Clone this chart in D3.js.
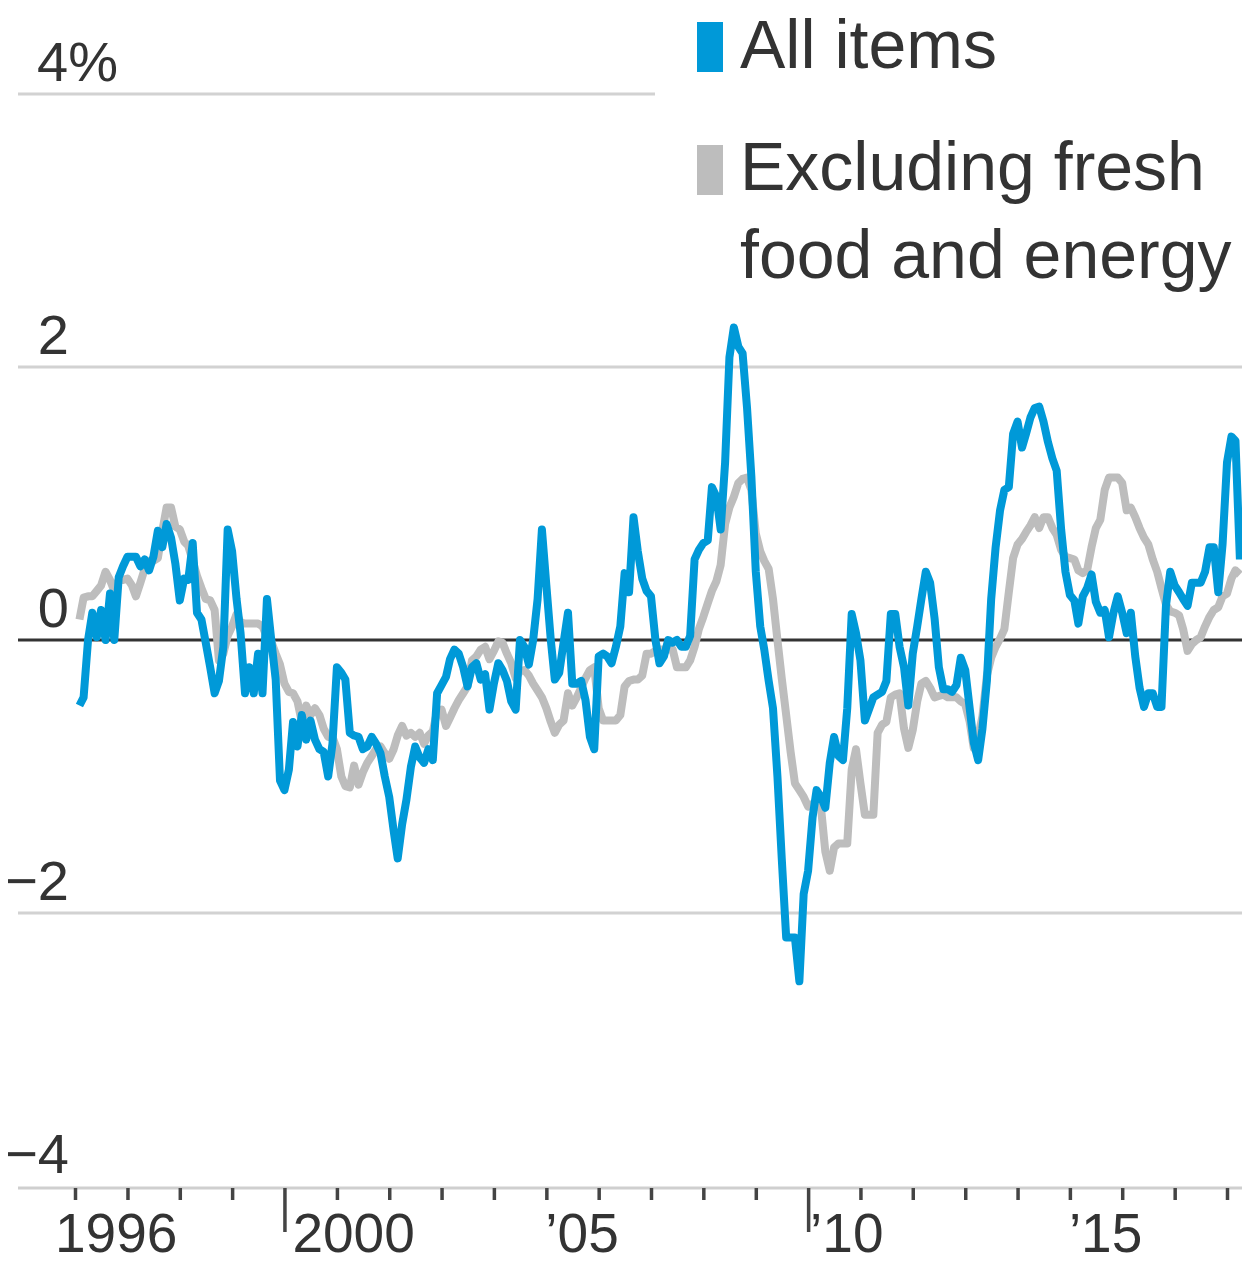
<!DOCTYPE html>
<html>
<head>
<meta charset="utf-8">
<script src="https://cdn.jsdelivr.net/npm/d3@7"></script>
<style>
  body { margin: 0; background: #fff; }
  svg text { font-family: "Liberation Sans", Arial, sans-serif; fill: #333; }
</style>
</head>
<body>
<svg id="chart" width="1242" height="1264"></svg>
<script>
// Monthly readings, first month Feb 1996
var startMonth = new Date(1996, 1, 1);

// All items (blue)
var allItems = [
  -0.48, -0.42, 0.0, 0.2, 0.02, 0.22, 0.0, 0.34, 0.0, 0.46, 0.54, 0.61,
  0.61, 0.61, 0.54, 0.59, 0.51, 0.61, 0.8, 0.68, 0.85, 0.75, 0.56, 0.29,
  0.45, 0.44, 0.71, 0.2, 0.15, -0.02, -0.2, -0.39, -0.3, -0.05, 0.81, 0.65,
  0.3, 0.05, -0.39, -0.2, -0.39, -0.1, -0.39, 0.3, 0.0, -0.29, -1.03, -1.1,
  -0.95, -0.6, -0.78, -0.55, -0.73, -0.59, -0.73, -0.8, -0.82, -1.0, -0.76, -0.2,
  -0.24, -0.29, -0.68, -0.7, -0.71, -0.8, -0.78, -0.71, -0.76, -0.83, -1.0, -1.15,
  -1.4, -1.6, -1.35, -1.17, -0.93, -0.78, -0.86, -0.9, -0.8, -0.88, -0.39, -0.33,
  -0.27, -0.14, -0.07, -0.1, -0.2, -0.34, -0.2, -0.17, -0.29, -0.25, -0.51, -0.32,
  -0.17, -0.22, -0.3, -0.45, -0.51, 0.0, -0.05, -0.18, 0.0, 0.3, 0.81, 0.4,
  0.0, -0.29, -0.24, -0.02, 0.2, -0.32, -0.32, -0.3, -0.44, -0.71, -0.8, -0.12,
  -0.1, -0.12, -0.17, -0.05, 0.1, 0.49, 0.35, 0.9, 0.65, 0.45, 0.36, 0.32,
  0.0, -0.17, -0.12, 0.0, -0.02, 0.0, -0.05, -0.05, 0.03, 0.59, 0.66, 0.71,
  0.73, 1.12, 1.05, 0.81, 1.3, 2.07, 2.29, 2.15, 2.1, 1.7, 1.2, 0.5,
  0.1, -0.07, -0.3, -0.5, -1.0, -1.6, -2.18, -2.18, -2.18, -2.5, -1.86, -1.69,
  -1.3, -1.1, -1.15, -1.23, -0.9, -0.71, -0.85, -0.88, -0.5, 0.19, 0.05, -0.15,
  -0.59, -0.51, -0.42, -0.4, -0.38, -0.3, 0.19, 0.19, -0.05, -0.2, -0.48, -0.1,
  0.1, 0.3, 0.5, 0.42, 0.16, -0.2, -0.36, -0.36, -0.38, -0.33, -0.13, -0.22,
  -0.5, -0.75, -0.88, -0.65, -0.3, 0.3, 0.68, 0.95, 1.1, 1.12, 1.51, 1.6,
  1.41, 1.51, 1.63, 1.7, 1.71, 1.6, 1.45, 1.33, 1.24, 0.81, 0.5, 0.33,
  0.29, 0.12, 0.32, 0.38, 0.48, 0.28, 0.2, 0.22, 0.02, 0.2, 0.32, 0.2,
  0.05, 0.2, -0.12, -0.35, -0.49, -0.39, -0.39, -0.49, -0.49, 0.25, 0.5, 0.4,
  0.35, 0.3, 0.25, 0.42, 0.42, 0.42, 0.5, 0.68, 0.68, 0.35, 0.7, 1.3,
  1.49, 1.46, 0.59
];

// Excluding fresh food and energy (gray)
var coreItems = [
  0.15, 0.31, 0.32, 0.32, 0.36, 0.4, 0.5, 0.44, 0.36, 0.44, 0.44, 0.45,
  0.4, 0.32, 0.42, 0.52, 0.58, 0.58, 0.6, 0.8, 0.97, 0.97, 0.83, 0.81,
  0.72, 0.69, 0.58, 0.47, 0.38, 0.3, 0.29, 0.22, -0.15, -0.1, 0.03, 0.1,
  0.19, 0.13, 0.12, 0.12, 0.12, 0.12, 0.1, 0.02, -0.01, -0.1, -0.18, -0.32,
  -0.38, -0.39, -0.45, -0.6, -0.48, -0.55, -0.5, -0.55, -0.65, -0.71, -0.71, -0.8,
  -1.0, -1.07, -1.08, -0.92, -1.06, -0.97, -0.9, -0.85, -0.8, -0.78, -0.83, -0.87,
  -0.8, -0.7, -0.63, -0.7, -0.68, -0.71, -0.68, -0.76, -0.7, -0.67, -0.52, -0.51,
  -0.63, -0.57, -0.5, -0.44, -0.39, -0.34, -0.15, -0.12, -0.07, -0.05, -0.14, -0.08,
  -0.01, -0.02, -0.1, -0.17, -0.28, -0.23, -0.22, -0.26, -0.32, -0.37, -0.42, -0.5,
  -0.6, -0.68, -0.62, -0.59, -0.39, -0.48, -0.42, -0.35, -0.28, -0.22, -0.2, -0.5,
  -0.59, -0.59, -0.59, -0.59, -0.55, -0.34, -0.3, -0.29, -0.29, -0.26, -0.1, -0.1,
  -0.08, -0.07, -0.07, -0.07, -0.07, -0.2, -0.2, -0.2, -0.15, -0.05, 0.08, 0.17,
  0.27, 0.36, 0.43, 0.55, 0.85, 0.97, 1.05, 1.15, 1.18, 1.19, 1.1, 0.78,
  0.65, 0.58, 0.52, 0.3, 0.0, -0.28, -0.55, -0.82, -1.05, -1.1, -1.15, -1.22,
  -1.2, -1.22, -1.23, -1.55, -1.69, -1.52, -1.49, -1.49, -1.49, -0.95, -0.8, -1.05,
  -1.28, -1.28, -1.28, -0.68, -0.62, -0.6, -0.42, -0.4, -0.39, -0.65, -0.79, -0.66,
  -0.45, -0.32, -0.3, -0.35, -0.42, -0.41, -0.4, -0.42, -0.42, -0.42, -0.45, -0.47,
  -0.6, -0.79, -0.71, -0.56, -0.26, -0.13, -0.05, 0.01, 0.08, 0.35, 0.6, 0.7,
  0.74, 0.79, 0.84, 0.9, 0.82, 0.9, 0.9, 0.82, 0.77, 0.66, 0.61, 0.6,
  0.59, 0.51, 0.49, 0.51, 0.68, 0.82, 0.88, 1.1, 1.19, 1.19, 1.19, 1.15,
  0.95, 0.97, 0.9, 0.82, 0.75, 0.7, 0.59, 0.5, 0.38, 0.26, 0.21, 0.2,
  0.18, 0.08, -0.08, -0.03, 0.0, 0.02, 0.1, 0.17, 0.22, 0.24, 0.32, 0.34,
  0.45, 0.51, 0.48
];

var yTicks = [4, 2, 0, -2, -4];
var yTickLabels = ["4%", "2", "0", "\u22122", "\u22124"];
var xLabelYears = [1996, 2000, 2005, 2010, 2015];
var xLabels = ["1996", "2000", "\u201905", "\u201910", "\u201915"];
var seriesNames = ["All items", ["Excluding fresh", "food and energy"]];
var seriesColors = ["#0099d8", "#bdbdbd"];

var width = 1242, height = 1264;
var svg = d3.select("#chart");

// Scales
var x = d3.scaleTime()
  .domain([new Date(1996, 0, 1), new Date(2018, 0, 1)])
  .range([75, 1227]);
var y = d3.scaleLinear()
  .domain([-4, 4])
  .range([1186, 94]);

// Gridlines (the 4% line stops short of the legend)
svg.selectAll(".grid")
  .data(yTicks.filter(function (d) { return d !== 0 && d !== -4; }))
  .enter().append("line")
  .attr("x1", 18)
  .attr("x2", function (d) { return d === 4 ? 655 : width; })
  .attr("y1", function (d) { return y(d); })
  .attr("y2", function (d) { return y(d); })
  .style("stroke", "#d2d2d2")
  .style("stroke-width", 3);

// Bottom baseline
svg.append("line")
  .attr("x1", 18).attr("x2", width)
  .attr("y1", y(-4) + 2).attr("y2", y(-4) + 2)
  .style("stroke", "#cfcfcf")
  .style("stroke-width", 3);

// Y labels
svg.selectAll(".ylab")
  .data(yTicks)
  .enter().append("text")
  .attr("x", function (d) { return d === 4 ? 37 : 69; })
  .attr("y", function (d) { return y(d) - 13; })
  .attr("text-anchor", function (d) { return d === 4 ? "start" : "end"; })
  .style("font-size", "56px")
  .text(function (d, i) { return yTickLabels[i]; });

// X axis ticks, one per year, longer at decades
var xAxis = svg.append("g")
  .attr("transform", "translate(0," + (y(-4) + 2) + ")")
  .call(d3.axisBottom(x).ticks(d3.timeYear.every(1)).tickSize(12).tickFormat(""));
xAxis.select(".domain").remove();
xAxis.selectAll(".tick line")
  .style("stroke", "#444")
  .style("stroke-width", 3.5)
  .attr("y2", function (d) { return d.getFullYear() % 10 === 0 ? 44 : 12; });

svg.selectAll(".xlab")
  .data(xLabelYears)
  .enter().append("text")
  .attr("x", function (d) {
    var dx = d === 2000 ? 8 : d === 2010 ? 2 : d === 1996 ? -20 : -1;
    return x(new Date(d, 0, 1)) + dx;
  })
  .attr("y", 1252)
  .style("font-size", "55px")
  .text(function (d, i) { return xLabels[i]; });

// Zero line
svg.append("line")
  .attr("x1", 18).attr("x2", width)
  .attr("y1", y(0)).attr("y2", y(0))
  .style("stroke", "#333")
  .style("stroke-width", 3);

// Lines
function toPoints(values) {
  return values.map(function (v, i) {
    return { date: d3.timeMonth.offset(startMonth, i), value: v };
  });
}
var line = d3.line()
  .x(function (d) { return x(d.date); })
  .y(function (d) { return y(d.value); });

[coreItems, allItems].forEach(function (vals, k) {
  svg.append("path")
    .datum(toPoints(vals))
    .attr("d", line)
    .style("fill", "none")
    .style("stroke", k === 0 ? seriesColors[1] : seriesColors[0])
    .style("stroke-width", 8)
    .style("stroke-linejoin", "round");
});

// Legend
var legend = svg.append("g");
legend.append("rect")
  .attr("x", 697).attr("y", 22).attr("width", 26).attr("height", 50)
  .style("fill", seriesColors[0]);
legend.append("text")
  .attr("x", 740).attr("y", 68)
  .style("font-size", "68px")
  .text(seriesNames[0]);
legend.append("rect")
  .attr("x", 697).attr("y", 145).attr("width", 26).attr("height", 50)
  .style("fill", seriesColors[1]);
legend.selectAll(".leg2")
  .data(seriesNames[1])
  .enter().append("text")
  .attr("x", 740)
  .attr("y", function (d, i) { return 190 + i * 88; })
  .style("font-size", "68px")
  .text(function (d) { return d; });
</script>
</body>
</html>
